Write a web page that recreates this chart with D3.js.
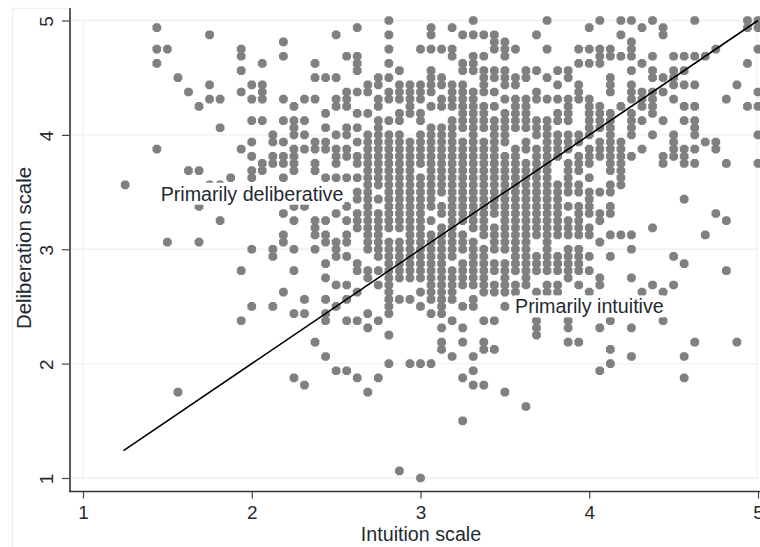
<!DOCTYPE html>
<html>
<head>
<meta charset="utf-8">
<script src="https://cdn.jsdelivr.net/npm/d3@7/dist/d3.min.js"></script>
<style>
html,body{margin:0;padding:0;background:#fff}
svg{display:block}
text{font-family:"Liberation Sans",Arial,sans-serif;fill:#1f2a33}
</style>
</head>
<body>
<svg id="chart" width="760" height="547"></svg>
<script>
// Intuition scale columns, in sixteenths above 1
const intuitionSteps = [4,7,8,9,10,11,12,13,14,15,16,17,18,19,20,21,22,23,24,25,26,27,28,29,30,31,32,33,34,35,36,37,38,39,40,41,42,43,44,45,46,47,48,49,50,51,52,53,54,55,56,57,58,59,60,61,62,63,64];
// Deliberation scale values in each column, in sixteenths below 5
const deliberationSteps = [
[23],
[1,4,6,18],
[4,31],
[8,52],
[10,21],
[12,21,26,31],
[2,9,11,23],
[11,15,23,28],
[22],
[4,5,7,10,18,35,42],
[9,11,14,17,19,21,22,32,40],
[6,9,10,11,14,20,21],
[16,17,19,20,32,33,40],
[3,5,11,14,17,19,20,22,27,30,31,38],
[12,14,15,16,18,19,20,21,26,28,32,35,41,50],
[11,14,16,18,26,39,41,51],
[6,8,11,17,18,20,21,28,29,30,32,45],
[8,13,15,17,18,22,28,30,31,34,36,39,41,42,47],
[2,8,11,12,16,18,19,20,22,27,31,32,33,37,40,49],
[5,10,11,12,15,16,18,19,22,26,28,30,31,33,37,39,42,49],
[1,5,6,7,10,13,15,17,19,20,22,24,25,27,28,29,34,35,38,42,50],
[9,10,13,16,17,18,19,20,21,22,23,24,25,26,27,28,29,30,31,32,35,36,41,43,52],
[8,9,11,12,14,15,16,17,18,19,20,21,22,23,25,27,28,29,30,31,32,33,35,37,42,50],
[0,2,4,6,8,10,11,14,16,17,18,19,20,21,22,23,24,25,26,27,28,29,31,32,33,34,35,36,37,38,39,40,41,44,48],
[7,9,10,11,13,14,16,17,18,19,20,21,22,23,24,25,26,27,28,29,31,32,33,34,35,36,39,63],
[9,10,11,12,13,17,18,19,20,21,22,23,24,25,26,27,28,29,30,31,32,33,34,35,36,39,48],
[4,9,10,11,13,14,16,17,18,19,20,22,23,24,25,26,27,28,29,30,31,32,33,34,35,36,38,40,48,64],
[1,2,4,7,8,9,10,12,15,16,17,18,19,20,21,22,23,24,25,26,28,30,31,32,33,34,35,36,37,38,39,41,48],
[4,8,9,11,12,15,16,17,18,19,20,21,22,23,24,26,27,29,30,31,32,33,34,35,36,37,38,39,40,41,43,45,46],
[1,4,5,9,10,11,12,14,15,16,17,18,19,20,21,22,23,24,25,26,27,28,29,30,31,32,33,35,36,37,38,39,42,47],
[2,6,7,9,10,11,12,13,14,15,17,18,19,20,21,22,23,24,25,26,27,28,30,31,32,34,35,36,37,40,43,45,50,56],
[0,2,5,6,7,10,11,12,13,14,15,16,17,18,19,20,21,22,23,24,25,26,27,28,29,31,32,33,34,35,36,37,39,40,47,49,51],
[2,5,7,8,9,10,12,13,14,15,17,18,19,20,21,22,23,24,25,26,27,28,29,30,32,33,34,35,36,37,38,42,45,46,51],
[2,3,4,7,8,10,12,14,15,16,17,18,19,20,21,22,23,24,25,26,27,29,30,31,32,34,35,37,38,42,46],
[3,4,5,7,8,9,11,13,14,15,16,17,19,20,21,22,23,24,25,26,27,28,29,30,31,32,34,35,36,37,38,40,52],
[4,8,9,11,12,13,14,15,18,19,20,21,22,23,24,25,26,27,28,29,30,31,32,33,34,35,37,38],
[7,8,11,12,13,14,15,17,18,20,21,22,23,24,25,26,27,28,29,30,31,32,33,34,35,36,37,54],
[2,7,10,11,14,15,16,18,19,20,21,22,23,24,25,26,27,28,29,30,33,34,35,38,42,43,44],
[0,4,8,11,14,15,16,17,18,19,20,21,22,23,24,25,26,27,28,29,30,31,32,33,34,35,37,38],
[7,9,11,13,14,16,17,18,19,23,24,25,26,27,28,29,30,33,34,35,37,38],
[7,8,11,12,13,14,16,17,18,20,21,22,23,24,26,28,29,30,32,33,34,35,36,42,43,45],
[4,6,9,10,11,16,17,19,20,21,23,24,26,27,28,29,30,32,33,34,35,37,45],
[1,4,6,11,12,13,14,15,16,18,19,20,22,24,25,26,27,29,30,33,35,38],
[0,4,5,6,12,13,14,15,17,18,19,24,27,28,31,36,37,43,49],
[4,5,8,9,10,13,14,15,16,17,18,19,20,21,23,24,26,27,30,33,42,46,48],
[0,2,5,12,17,18,19,20,21,22,23,30],
[0,3,4,5,7,9,10,11,13,14,15,16,19,30,32,36,43,47],
[1,6,10,11,12,14,18,38],
[0,5,7,8,10,11,12,13,16,29,37],
[1,2,8,10,14,19,20,38,42],
[5,7,8,9,11,16,17,18,19,33,37],
[5,7,9,12,14,18,19,20,25,34,47,50],
[0,5,9,12,14,15,16,18,20,45],
[5,17,30],
[4,17,18,27],
[11,20,28,35],
[9,45],
[0,1,6,12],
[0,1,4,10,12,16,20]
];
// Diagonal reference line, end points on the two scales
const lineIntuition = [1.24, 5];
const lineDeliberation = [1.24, 5];
const yTickValues = [1,2,3,4,5];
const xTickValues = [1,2,3,4,5];
const labelTexts = ["Primarily deliberative","Primarily intuitive"];
const labelIntuition = [1.46, 3.56];
const labelDeliberation = [3.47, 2.485];

const x = d3.scaleLinear().domain([1,5]).range([83,758]);
const y = d3.scaleLinear().domain([1,5]).range([478,20.5]);
const svg = d3.select("#chart");
const fontSize = 19.7;

// outer graph border (pale)
svg.append("path").attr("d","M12.5,547V8.5H70").attr("fill","none").attr("stroke","#eaf2f3").attr("stroke-width",1.5);

// gridlines
const grid = svg.append("g").attr("stroke","#eaf2f3").attr("stroke-width",1.3);
grid.selectAll("line.h").data(yTickValues).join("line").attr("class","h")
  .attr("x1",70).attr("x2",758).attr("y1",d=>y(d)).attr("y2",d=>y(d));
grid.selectAll("line.v").data([1,5]).join("line").attr("class","v")
  .attr("x1",d=>x(d)-(d===5?1:0)).attr("x2",d=>x(d)-(d===5?1:0)).attr("y1",y(5)).attr("y2",y(1));

// points: octagon marker
const marker = {draw(ctx){
  const a=4.35, b=1.95;
  ctx.moveTo(-b,-a);ctx.lineTo(b,-a);ctx.lineTo(a,-b);ctx.lineTo(a,b);
  ctx.lineTo(b,a);ctx.lineTo(-b,a);ctx.lineTo(-a,b);ctx.lineTo(-a,-b);ctx.closePath();
}};
const points = [];
intuitionSteps.forEach((ix,i)=>deliberationSteps[i].forEach(l=>points.push([1+ix/16,5-l/16])));
svg.append("g").selectAll("path").data(points).join("path")
  .attr("d",d3.symbol(marker))
  .attr("transform",d=>`translate(${x(d[0])},${y(d[1])})`)
  .attr("fill","#808080");

// line
svg.append("path")
  .datum(d3.zip(lineIntuition,lineDeliberation))
  .attr("d",d3.line().x(d=>x(d[0])).y(d=>y(d[1])))
  .attr("fill","none").attr("stroke","#000").attr("stroke-width",1.6);

// marker labels with white box
labelTexts.forEach((s,i)=>{
  const g = svg.append("g");
  const t = g.append("text").attr("x",x(labelIntuition[i])).attr("y",y(labelDeliberation[i])).attr("font-size",fontSize)
    .attr("dominant-baseline","middle").text(s);
  const b = t.node().getBBox();
  g.insert("rect","text").attr("x",b.x-1).attr("y",b.y).attr("width",b.width+2).attr("height",b.height).attr("fill","#fff");
});

// axes
const yAxis = d3.axisLeft(y).tickValues(yTickValues).tickFormat(d3.format("d")).tickSize(8);
const gy = svg.append("g").attr("transform","translate(70,0)").call(yAxis);
gy.select(".domain").remove();
gy.selectAll(".tick line").attr("stroke","#444").attr("stroke-width",1.2);
gy.selectAll(".tick text").attr("font-size",19).attr("font-family",null)
  .attr("x",0).attr("y",0).attr("dy",null).attr("text-anchor","middle")
  .attr("transform","translate(-17,0.5) rotate(-90)");
svg.append("line").attr("x1",70).attr("x2",70).attr("y1",8).attr("y2",492).attr("stroke","#5a5a5a").attr("stroke-width",2);

const xAxis = d3.axisBottom(x).tickValues(xTickValues).tickFormat(d3.format("d")).tickSize(7).tickPadding(7);
const gx = svg.append("g").attr("transform","translate(0,491.5)").call(xAxis);
gx.select(".domain").remove();
gx.selectAll(".tick line").attr("stroke","#444").attr("stroke-width",1.2);
gx.selectAll(".tick text").attr("font-size",19).attr("font-family",null);
svg.append("line").attr("x1",69).attr("x2",760).attr("y1",491.5).attr("y2",491.5).attr("stroke","#333").attr("stroke-width",1.4);

// axis titles
svg.append("text").attr("x",421).attr("y",540.5).attr("text-anchor","middle").attr("font-size",fontSize).text("Intuition scale");
svg.append("text").attr("transform","translate(31,248) rotate(-90)").attr("text-anchor","middle").attr("font-size",20.4).text("Deliberation scale");
</script>
</body>
</html>
